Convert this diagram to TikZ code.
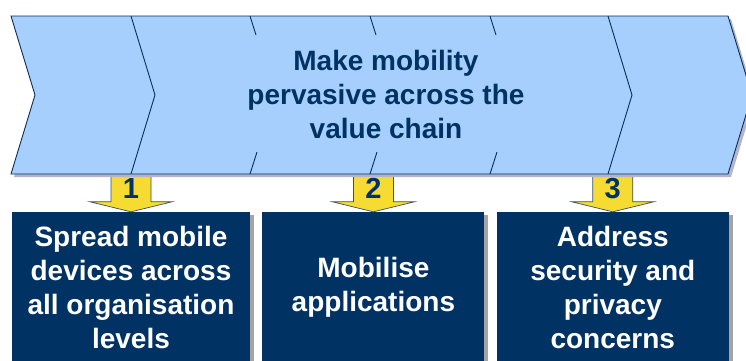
\documentclass[tikz,border=0pt]{standalone}
\usepackage{fontspec}
\setmainfont{Liberation Sans}
\usetikzlibrary{positioning,shadows}
\definecolor{bandblue}{HTML}{A6CFFE}
\definecolor{navy}{HTML}{003264}
\definecolor{darkline}{HTML}{0B2D5A}
\definecolor{arrowyellow}{HTML}{F6DB33}
\definecolor{shadowlav}{HTML}{B4B4CC}
\definecolor{shadowgray}{HTML}{A4A4A4}

\begin{document}
\begin{tikzpicture}[x=1pt,y=-1pt,
  band/.style={fill=bandblue,draw=darkline,line width=0.9pt,
    drop shadow={shadow xshift=3pt,shadow yshift=-3pt,fill=shadowlav,opacity=1}},
  tick/.style={draw=darkline,line width=0.9pt},
  title node/.style={text=navy,font=\bfseries\fontsize{28}{34}\selectfont,align=center},
  box node/.style={rectangle,fill=navy,text=white,minimum height=150pt,inner sep=0pt,
    font=\bfseries\fontsize{28}{34}\selectfont,align=center,
    drop shadow={shadow xshift=4pt,shadow yshift=-3pt,fill=shadowgray,opacity=1}},
  block arrow/.style={fill=arrowyellow,draw=darkline!60!gray,line width=0.7pt},
  num node/.style={text=navy,inner sep=0pt,font=\bfseries\fontsize{29}{29}\selectfont}]
  \useasboundingbox (0,0) rectangle (746,360);
  \clip (0,0) rectangle (746,360);

  % the three goals
  \node[box node,minimum width=238pt] (b1) at (131,287) {Spread mobile\\devices across\\all organisation\\levels};
  \node[box node,minimum width=222pt,right=12pt of b1] (b2) {Mobilise\\applications};
  \node[box node,minimum width=232pt,right=12pt of b2] (b3) {Address\\security and\\privacy\\concerns};

  % yellow arrows with numbers
  \foreach \b/\n in {b1/1,b2/2,b3/3} {
    \path[block arrow] (\b.north) -- ++(-41,-10) -- ++(21,0) -- ++(0,-32) -- ++(40,0)
      -- ++(0,32) -- ++(21,0) -- cycle;
    \node[num node] (n\n) at ([yshift=23pt]\b.north) {\n};
  }

  % value chain band
  \path[band] (11,16) -- (728,16) -- (752,95) -- (728,174) -- (11,174) -- (35,95) -- cycle;
  \draw[tick] (131,16) -- (155,95) -- (131,174);
  \draw[tick] (608,16) -- (632,95) -- (608,174);
  \foreach \x in {250,370,490}
    \draw[tick] (\x,16) -- ++(6,19) (\x,174) -- ++(7,-22);

  \node[title node] (t) at (386,94) {Make mobility\\pervasive across the\\value chain};
\end{tikzpicture}
\end{document}
